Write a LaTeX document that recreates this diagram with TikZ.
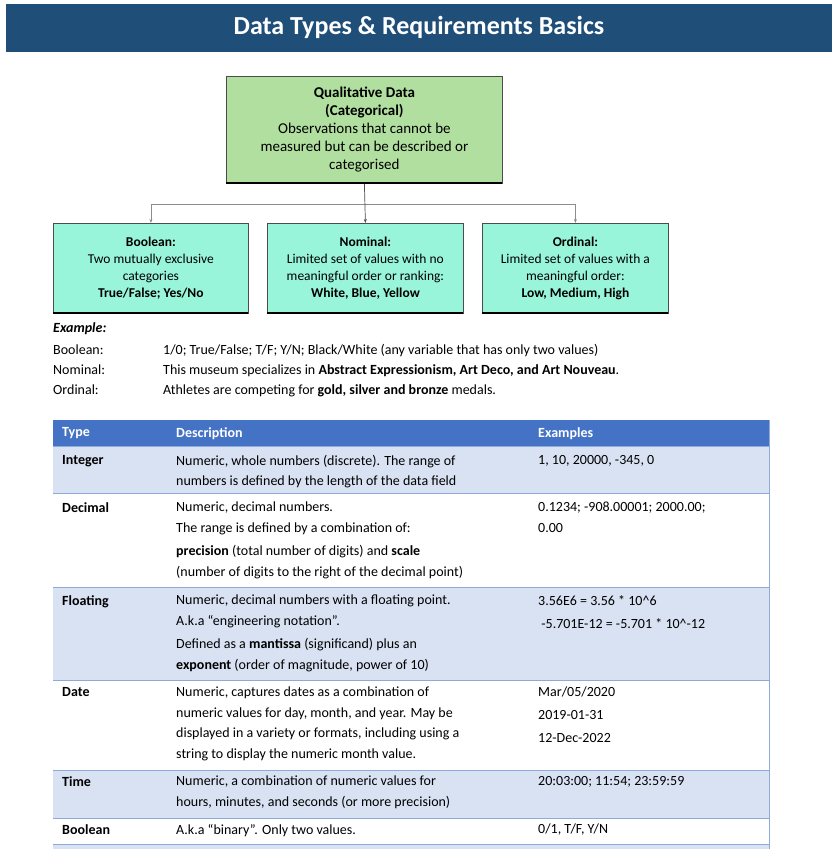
\documentclass[tikz,border=0pt]{standalone}
\usepackage{fontspec}
\usetikzlibrary{arrows.meta}
\setmainfont{Carlito}
\definecolor{titlebg}{HTML}{1F4E79}
\definecolor{qgreen}{HTML}{B1DFA0}
\definecolor{aqua}{HTML}{98F5D9}
\definecolor{hdrblue}{HTML}{4472C4}
\definecolor{rowblue}{HTML}{D9E2F3}
\definecolor{rowline}{HTML}{8EAADB}
\begin{document}
\begin{tikzpicture}[x=1pt,y=-1pt,
  catbox/.style={draw=black!70,line width=0.8pt,minimum width=#1,minimum height=90pt,align=center,inner sep=0pt,anchor=north west},
  cell/.style={anchor=north west,inner sep=0pt,align=left,font=\fontsize{14}{20.5}\selectfont},
  ex/.style={anchor=base west,inner sep=0pt,font=\fontsize{14}{17}\selectfont},
  conn/.style={draw=black!45,line width=0.7pt},
  tip/.style={-{Stealth[length=4pt,width=3pt]},draw=black!70,line width=0.7pt}]
\useasboundingbox (0,0) rectangle (839,849);
\fill[white] (0,0) rectangle (839,849);
% title
\fill[titlebg] (6,4) rectangle (832,52);
\node[text=white,font=\bfseries\fontsize{26}{28}\selectfont] (title) at (419,27) {Data Types \& Requirements Basics};
% top box
\node[draw=black!70,fill=qgreen,line width=0.8pt,minimum width=276pt,minimum height=107pt,anchor=north west,align=center,inner sep=0pt,font=\fontsize{15}{18}\selectfont] (qual) at (226,76)
 {\textbf{Qualitative Data}\\\textbf{(Categorical)}\\Observations that cannot be\\measured but can be described or\\categorised};
\draw[black,line width=1.6pt] (226,183) -- (502,183);
% children
\node[catbox=195pt,fill=aqua,font=\fontsize{13.5}{17}\selectfont] (bool) at (53,223)
 {\textbf{Boolean:}\\Two mutually exclusive\\categories\\\textbf{True/False; Yes/No}};
\node[catbox=196pt,fill=aqua,font=\fontsize{13.5}{17}\selectfont] (nom) at (267,223)
 {\textbf{Nominal:}\\Limited set of values with no\\meaningful order or ranking:\\\textbf{White, Blue, Yellow}};
\node[catbox=186pt,fill=aqua,font=\fontsize{13.5}{17}\selectfont] (ord) at (482,223)
 {\textbf{Ordinal:}\\Limited set of values with a\\meaningful order:\\\textbf{Low, Medium, High}};
\draw[black,line width=1.8pt] (53,313) -- (248,313) (267,313) -- (463,313) (482,313) -- (668,313);
\coordinate (j) at (365,204);
\draw[conn] (bool.north |- j) -- (ord.north |- j);
\draw[tip] (qual.south) -- (nom.north);
\draw[tip,draw=black!45] (bool.north |- j) -- (bool.north);
\draw[tip,draw=black!45] (ord.north |- j) -- (ord.north);
% examples
\node[ex,font=\bfseries\itshape\fontsize{14}{17}\selectfont] (exh) at (53,332) {Example:};
\node[ex] (l1) at (53,354) {Boolean:};
\node[ex] (l2) at (53,374) {Nominal:};
\node[ex] (l3) at (53,394) {Ordinal:};
\node[ex] (t1) at (163,354) {1/0; True/False; T/F; Y/N; Black/White (any variable that has only two values)};
\node[ex] (t2) at (163,374) {This museum specializes in \textbf{Abstract Expressionism, Art Deco, and Art Nouveau}.};
\node[ex] (t3) at (163,394) {Athletes are competing for \textbf{gold, silver and bronze} medals.};
% table
\fill[hdrblue] (53,420) rectangle (769,446);
\fill[rowblue] (53,446) rectangle (769,493);
\fill[rowblue] (53,587) rectangle (769,680);
\fill[rowblue] (53,770) rectangle (769,818);
\draw[rowline,line width=1pt] (53,446) -- (769,446) (53,493) -- (769,493) (53,587) -- (769,587) (53,680) -- (769,680) (53,770) -- (769,770) (53,818) -- (769,818) (53,844) -- (769,844);
\draw[rowline,line width=1pt] (769,420) -- (769,849);
\fill[rowblue] (53,845) rectangle (769,849);
\node[cell,text=white,font=\bfseries\fontsize{14}{20.5}\selectfont] (h1) at (62,427) {Type};
\node[cell,text=white,font=\bfseries\fontsize{14}{20.5}\selectfont] (h2) at (176,427) {Description};
\node[cell,text=white,font=\bfseries\fontsize{14}{20.5}\selectfont] (h3) at (538,427) {Examples};
% rows
\node[cell,font=\bfseries\fontsize{14}{20.5}\selectfont] (r1) at (62,455) {Integer};
\node[cell] (d1) at (176,455) {Numeric, whole numbers (discrete). The range of\\numbers is defined by the length of the data field};
\node[cell] (e1) at (538,455) {1, 10, 20000, -345, 0};
\node[cell,font=\bfseries\fontsize{14}{20.5}\selectfont] (r2) at (62,502) {Decimal};
\node[cell] (d2) at (176,502) {Numeric, decimal numbers.\\The range is defined by a combination of:\\[3pt]\textbf{precision} (total number of digits) and \textbf{scale}\\(number of digits to the right of the decimal point)};
\node[cell] (e2) at (538,502) {0.1234; -908.00001; 2000.00;\\0.00};
\node[cell,font=\bfseries\fontsize{14}{20.5}\selectfont] (r3) at (62,595) {Floating};
\node[cell] (d3) at (176,595) {Numeric, decimal numbers with a floating point.\\A.k.a “engineering notation”.\\[3pt]Defined as a \textbf{mantissa} (significand) plus an\\\textbf{exponent} (order of magnitude, power of 10)};
\node[cell,font=\fontsize{14}{23}\selectfont] (e3) at (538,595) {3.56E6 = 3.56 * 10\^{}6\\\ -5.701E-12 = -5.701 * 10\^{}-12};
\node[cell,font=\bfseries\fontsize{14}{20.5}\selectfont] (r4) at (62,687) {Date};
\node[cell] (d4) at (176,687) {Numeric, captures dates as a combination of\\numeric values for day, month, and year. May be\\displayed in a variety or formats, including using a\\string to display the numeric month value.};
\node[cell,font=\fontsize{14}{23}\selectfont] (e4) at (538,687) {Mar/05/2020\\2019-01-31\\12-Dec-2022};
\node[cell,font=\bfseries\fontsize{14}{20.5}\selectfont] (r5) at (62,776) {Time};
\node[cell] (d5) at (176,776) {Numeric, a combination of numeric values for\\hours, minutes, and seconds (or more precision)};
\node[cell] (e5) at (538,776) {20:03:00; 11:54; 23:59:59};
\node[cell,font=\bfseries\fontsize{14}{20.5}\selectfont] (r6) at (62,824) {Boolean};
\node[cell] (d6) at (176,824) {A.k.a “binary”. Only two values.};
\node[cell] (e6) at (538,824) {0/1, T/F, Y/N};
\end{tikzpicture}
\end{document}
